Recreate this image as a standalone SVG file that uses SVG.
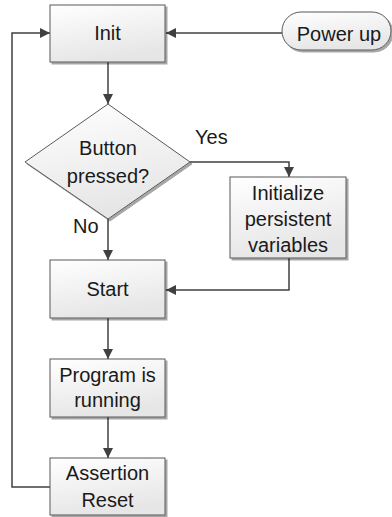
<svg xmlns="http://www.w3.org/2000/svg" width="392" height="517" viewBox="0 0 392 517">
<defs>
<linearGradient id="g" x1="0" y1="0" x2="0.3" y2="1">
<stop offset="0" stop-color="#ffffff"/>
<stop offset="1" stop-color="#e6e6e6"/>
</linearGradient>
<marker id="ah" markerWidth="10" markerHeight="10" refX="10" refY="5" orient="auto" markerUnits="userSpaceOnUse">
<path d="M0,0 L10,5 L0,10 Z" fill="#404040"/>
</marker>
<filter id="sh" x="-10%" y="-10%" width="130%" height="130%">
<feGaussianBlur in="SourceAlpha" stdDeviation="0.6"/>
<feOffset dx="2" dy="2" result="o"/>
<feComponentTransfer><feFuncA type="linear" slope="0.35"/></feComponentTransfer>
<feMerge><feMergeNode/><feMergeNode in="SourceGraphic"/></feMerge>
</filter>
</defs>
<style>
.box{fill:url(#g);stroke:#595959;stroke-width:1;filter:url(#sh)}
.t{font-family:"Liberation Sans",Arial,sans-serif;font-size:20px;fill:#1a1a1a;text-anchor:middle}
.l{font-family:"Liberation Sans",Arial,sans-serif;font-size:20px;fill:#1a1a1a}
.c{fill:none;stroke:#404040;stroke-width:1.5}
</style>
<g id="connectors">
<path class="c" d="M282,33 H166" marker-end="url(#ah)"/>
<path class="c" d="M108,62 V104" marker-end="url(#ah)"/>
<path class="c" d="M190,162 H289 V177" marker-end="url(#ah)"/>
<path class="c" d="M108,219 V260" marker-end="url(#ah)"/>
<path class="c" d="M289,258 V290 H166" marker-end="url(#ah)"/>
<path class="c" d="M108,318 V359" marker-end="url(#ah)"/>
<path class="c" d="M108,417 V458" marker-end="url(#ah)"/>
<path class="c" d="M50,487 H12 V33 H50" marker-end="url(#ah)"/>
</g>
<g id="powerup">
<rect class="box" x="282" y="12" width="109" height="38" rx="19" ry="19"/>
<text class="t" x="339" y="41">Power up</text>
</g>
<g id="init">
<rect class="box" x="50" y="5" width="115" height="57"/>
<text class="t" x="107.5" y="40">Init</text>
</g>
<g id="decision">
<polygon class="box" points="108,104 190,162 108,219 25,162"/>
<text class="t" x="108" y="155">Button</text>
<text class="t" x="108" y="183">pressed?</text>
</g>
<g id="initialize">
<rect class="box" x="230" y="177" width="116" height="81"/>
<text class="t" x="288" y="200">Initialize</text>
<text class="t" x="288" y="226">persistent</text>
<text class="t" x="288" y="252">variables</text>
</g>
<g id="start">
<rect class="box" x="50" y="260" width="115" height="58"/>
<text class="t" x="107.5" y="296">Start</text>
</g>
<g id="program">
<rect class="box" x="50" y="359" width="115" height="58"/>
<text class="t" x="107.5" y="382">Program is</text>
<text class="t" x="107.5" y="407">running</text>
</g>
<g id="assertion">
<rect class="box" x="50" y="458" width="115" height="57"/>
<text class="t" x="107.5" y="480">Assertion</text>
<text class="t" x="107.5" y="507">Reset</text>
</g>
<g id="labels">
<text class="l" x="195" y="144">Yes</text>
<text class="l" x="73" y="233">No</text>
</g>
</svg>
